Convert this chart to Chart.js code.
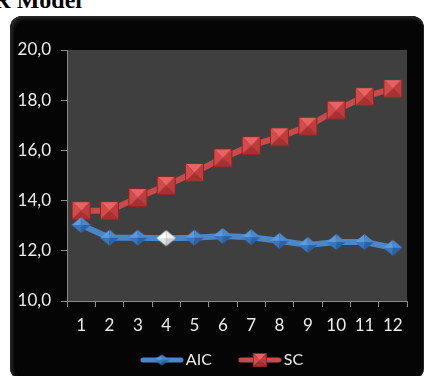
<!DOCTYPE html>
<html lang="en">
<head>
  <meta charset="UTF-8">
  <script src="https://cdn.jsdelivr.net/npm/chart.js"></script>
  <title>AIC / SC</title>
  <style>
    html, body { margin: 0; padding: 0; background: #fff; }
    #page { position: relative; width: 428px; height: 376px; overflow: hidden; }
    #titulo {
      position: absolute; right: 346px; top: -12px; white-space: nowrap;
      font: bold 24px "Liberation Serif", serif; line-height: 24px; color: #000;
    }
    #caixa {
      position: absolute; left: 10px; top: 16px; width: 414px; height: 364px;
      background: #050505; border-radius: 12px;
      box-shadow: inset 0 0 0 1px #262626, inset 2px 2px 4px #333;
    }
    #grafico1 { position: absolute; left: 0; top: 0; }
  </style>
</head>
<body>
  <div id="page">
    <div id="titulo">VAR Model</div>
    <div id="caixa"></div>
    <canvas id="grafico1" width="428" height="376"></canvas>
  </div>

<script>
  // dados
  const lags = ['1', '2', '3', '4', '5', '6', '7', '8', '9', '10', '11', '12'];
  const aic = [13.03, 12.52, 12.52, 12.50, 12.52, 12.59, 12.54, 12.40, 12.23, 12.35, 12.35, 12.12];
  const sc = [13.60, 13.60, 14.12, 14.60, 15.12, 15.70, 16.19, 16.54, 16.96, 17.60, 18.14, 18.46];
  const yTicks = [10, 12, 14, 16, 18, 20];
  const destaqueAIC = 3; // ponto branco

  // marcadores com efeito de pirâmide (estilo Excel)
  function quadrado(lado, cores) {
    const c = document.createElement('canvas');
    c.width = lado + 2; c.height = lado + 2;
    const ctx = c.getContext('2d');
    const a = 1, b = lado + 1, m = (lado + 2) / 2;
    const faces = [
      [[a, a], [b, a], [m, m], cores[0]],
      [[a, a], [a, b], [m, m], cores[1]],
      [[b, a], [b, b], [m, m], cores[2]],
      [[a, b], [b, b], [m, m], cores[3]]
    ];
    faces.forEach(f => {
      ctx.beginPath(); ctx.moveTo(f[0][0], f[0][1]); ctx.lineTo(f[1][0], f[1][1]); ctx.lineTo(f[2][0], f[2][1]);
      ctx.closePath(); ctx.fillStyle = f[3]; ctx.fill();
    });
    ctx.strokeStyle = cores[4]; ctx.lineWidth = 1;
    ctx.strokeRect(a + 0.5, a + 0.5, lado - 1, lado - 1);
    return c;
  }

  function losango(w, h, cores) {
    const c = document.createElement('canvas');
    c.width = w + 2; c.height = h + 2;
    const ctx = c.getContext('2d');
    const cx = (w + 2) / 2, cy = (h + 2) / 2;
    const t = [cx, 1], r = [w + 1, cy], bt = [cx, h + 1], l = [1, cy], m = [cx, cy];
    const faces = [[l, t, cores[0]], [t, r, cores[1]], [l, bt, cores[2]], [bt, r, cores[3]]];
    faces.forEach(f => {
      ctx.beginPath(); ctx.moveTo(f[0][0], f[0][1]); ctx.lineTo(f[1][0], f[1][1]); ctx.lineTo(m[0], m[1]);
      ctx.closePath(); ctx.fillStyle = f[2]; ctx.fill();
    });
    return c;
  }

  const coresVermelho = ['#e86464', '#d24a4a', '#c03c3c', '#a83030', '#8a2828'];
  const coresAzul = ['#5a9ae0', '#4a88d0', '#3a76bd', '#2d63a6'];
  const coresBranco = ['#ffffff', '#f2f2f2', '#e4e4e4', '#cfcfcf'];

  const marcaSC = quadrado(19, coresVermelho);
  const marcaAIC = losango(19, 16, coresAzul);
  const marcaAICBranca = losango(19, 16, coresBranco);

  // ícones da legenda: linha + marcador, com margem transparente à esquerda
  const larguraIcone = 76;
  function iconeLegenda(cor, marca) {
    const c = document.createElement('canvas');
    c.width = larguraIcone; c.height = 16;
    const ctx = c.getContext('2d');
    ctx.strokeStyle = cor; ctx.lineWidth = 5; ctx.lineCap = 'round';
    ctx.beginPath(); ctx.moveTo(larguraIcone - 41, 8); ctx.lineTo(larguraIcone - 3, 8); ctx.stroke();
    ctx.drawImage(marca, larguraIcone - 22 - marca.width / 2, 8 - marca.height / 2);
    return c;
  }
  const corAIC = '#4a86c8';
  const corSC = '#c84a4a';
  const legAIC = iconeLegenda(corAIC, losango(15, 11, coresAzul));
  const legSC = iconeLegenda(corSC, quadrado(14, coresVermelho));

  const fundoPlot = {
    id: 'fundoPlot',
    beforeDraw(chart) {
      const a = chart.chartArea, ctx = chart.ctx;
      ctx.save();
      ctx.fillStyle = '#3f3f3f';
      ctx.fillRect(a.left, a.top, a.right - a.left, a.bottom - a.top);
      ctx.restore();
    }
  };

  const corTexto = '#ececec';
  const fonte = { family: 'Lato', size: 17 };

  const config = {
    type: 'line',
    data: {
      labels: lags,
      datasets: [{
        label: 'AIC',
        data: aic,
        borderColor: corAIC,
        borderWidth: 6,
        pointStyle: (ctx) => ctx.dataIndex === destaqueAIC ? marcaAICBranca : marcaAIC,
        order: 1
      }, {
        label: 'SC',
        data: sc,
        borderColor: corSC,
        borderWidth: 6,
        pointStyle: marcaSC,
        order: 2
      }]
    },
    plugins: [fundoPlot],
    options: {
      responsive: false,
      animation: false,
      devicePixelRatio: 1,
      layout: { padding: { left: 10, right: 21, top: 50, bottom: -2 } },
      plugins: {
        tooltip: { enabled: false },
        legend: {
          position: 'bottom',
          labels: {
            color: corTexto,
            font: { family: 'Lato', size: 16 },
            usePointStyle: true,
            pointStyleWidth: larguraIcone - 12,
            padding: 0,
            generateLabels: (chart) => chart.data.datasets.map((ds, i) => ({
              text: ds.label,
              pointStyle: i === 0 ? legAIC : legSC,
              fontColor: corTexto,
              datasetIndex: i,
              hidden: false,
              lineWidth: 0
            }))
          }
        }
      },
      scales: {
        x: {
          offset: true,
          grid: { offset: true, drawOnChartArea: false, color: '#8a8a8a', tickLength: 6 },
          border: { color: '#8a8a8a', width: 1 },
          ticks: { color: corTexto, font: fonte, padding: 8, maxRotation: 0 },
          afterFit: (scale) => { scale.height = 51; }
        },
        y: {
          min: yTicks[0],
          max: yTicks[yTicks.length - 1],
          afterBuildTicks: (scale) => { scale.ticks = yTicks.map(v => ({ value: v })); },
          grid: { drawOnChartArea: false, color: '#8a8a8a', tickLength: 6 },
          border: { color: '#8a8a8a', width: 1 },
          ticks: {
            color: corTexto, font: fonte, padding: 10,
            callback: (v) => v.toFixed(1).replace('.', ',')
          },
          afterFit: (scale) => { scale.width = 57; }
        }
      }
    }
  };

  let myChart = new Chart(document.getElementById('grafico1'), config);
</script>
</body>
</html>
